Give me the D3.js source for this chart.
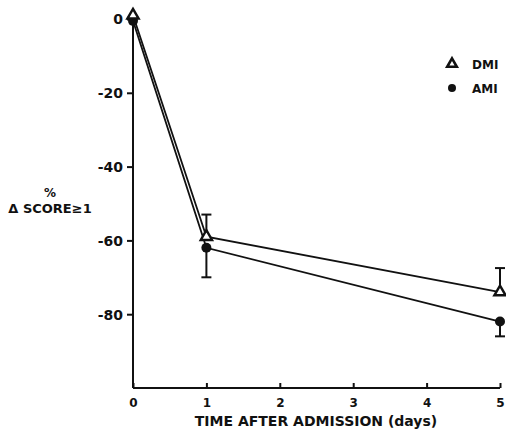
<!DOCTYPE html>
<html lang="en">
<head>
<meta charset="UTF-8">
<title>Score change</title>
<script src="https://d3js.org/d3.v7.min.js"></script>
<style>
  body { margin: 0; background: #fff; }
  text { font-family: "DejaVu Sans", Arial, sans-serif; font-weight: bold; fill: #111; }
</style>
</head>
<body>
<div id="chart"></div>
<script>
const days = [0, 1, 5];
const dmiValues = [1, -59, -74];
const amiValues = [-0.5, -62, -82];
// error bars: DMI upward, AMI downward
const dmiErrTop = [null, -53, -67.5];
const amiErrBottom = [null, -70, -86];
const xTicks = [0, 1, 2, 3, 4, 5];
const yTicks = [0, -20, -40, -60, -80];

const width = 506, height = 429;
const svg = d3.select("#chart").append("svg")
    .attr("width", width)
    .attr("height", height);

const x = d3.scaleLinear().domain([0, 5]).range([133, 500]);
const y = d3.scaleLinear().domain([0, -100]).range([19, 388]);

// axes
const yAxis = svg.append("g")
    .attr("transform", `translate(${x(0)},0)`)
    .call(d3.axisLeft(y).tickValues(yTicks).tickSize(6).tickPadding(4).tickFormat(d => d === 0 ? "0" : "-" + Math.abs(d)));
yAxis.select(".domain").attr("d", `M0,${y(0) - 4}V${y(-100)}`).attr("stroke", "#111").attr("stroke-width", 2);
yAxis.selectAll(".tick line").attr("stroke", "#111").attr("stroke-width", 2);
yAxis.selectAll(".tick text").style("font-size", "14px").attr("dy", "0.35em");

const xAxis = svg.append("g")
    .attr("transform", `translate(0,${y(-100)})`)
    .call(d3.axisBottom(x).tickValues(xTicks).tickSize(-5).tickPadding(10).tickFormat(d3.format("d")));
xAxis.select(".domain").attr("d", `M${x(0)},0H${x(5)}`).attr("stroke", "#111").attr("stroke-width", 2);
xAxis.selectAll(".tick line").attr("stroke", "#111").attr("stroke-width", 2);
xAxis.selectAll(".tick text").style("font-size", "12px");

// axis titles
svg.append("text").attr("x", 316).attr("y", 426).attr("text-anchor", "middle")
    .style("font-size", "14px").text("TIME AFTER ADMISSION  (days)");
svg.append("text").attr("x", 50).attr("y", 197).attr("text-anchor", "middle")
    .style("font-size", "12px").text("%");
svg.append("text").attr("x", 50).attr("y", 213).attr("text-anchor", "middle")
    .style("font-size", "13px").text("\u0394 SCORE\u22651");

const line = d3.line().x(d => x(d[0])).y(d => y(d[1]));
const dmi = days.map((d, i) => [d, dmiValues[i]]);
const ami = days.map((d, i) => [d, amiValues[i]]);

svg.append("path").datum(dmi).attr("d", line)
    .attr("fill", "none").attr("stroke", "#111").attr("stroke-width", 1.8);
svg.append("path").datum(ami).attr("d", line)
    .attr("fill", "none").attr("stroke", "#111").attr("stroke-width", 1.8);

// error bars
function errBar(day, from, to) {
  svg.append("line").attr("x1", x(day)).attr("x2", x(day))
      .attr("y1", y(from)).attr("y2", y(to)).attr("stroke", "#111").attr("stroke-width", 2);
  svg.append("line").attr("x1", x(day) - 5).attr("x2", x(day) + 5)
      .attr("y1", y(to)).attr("y2", y(to)).attr("stroke", "#111").attr("stroke-width", 2);
}
days.forEach((d, i) => {
  if (dmiErrTop[i] !== null) errBar(d, dmiValues[i], dmiErrTop[i]);
  if (amiErrBottom[i] !== null) errBar(d, amiValues[i], amiErrBottom[i]);
});

const tri = d3.symbol().type(d3.symbolTriangle).size(55);
svg.selectAll("circle.ami").data(ami).enter().append("circle")
    .attr("cx", d => x(d[0])).attr("cy", d => y(d[1])).attr("r", 5).attr("fill", "#111");
svg.selectAll("path.dmi").data(dmi).enter().append("path")
    .attr("d", tri)
    .attr("transform", d => `translate(${x(d[0])},${y(d[1])})`)
    .attr("fill", "#fff").attr("stroke", "#111").attr("stroke-width", 2.4);

// legend
svg.append("path").attr("d", d3.symbol().type(d3.symbolTriangle).size(40)).attr("transform", "translate(452,64)")
    .attr("fill", "#fff").attr("stroke", "#111").attr("stroke-width", 2.6);
svg.append("text").attr("x", 472).attr("y", 69).style("font-size", "12px").text("DMI");
svg.append("circle").attr("cx", 452).attr("cy", 88).attr("r", 4).attr("fill", "#111");
svg.append("text").attr("x", 472).attr("y", 93).style("font-size", "12px").text("AMI");
</script>
</body>
</html>
